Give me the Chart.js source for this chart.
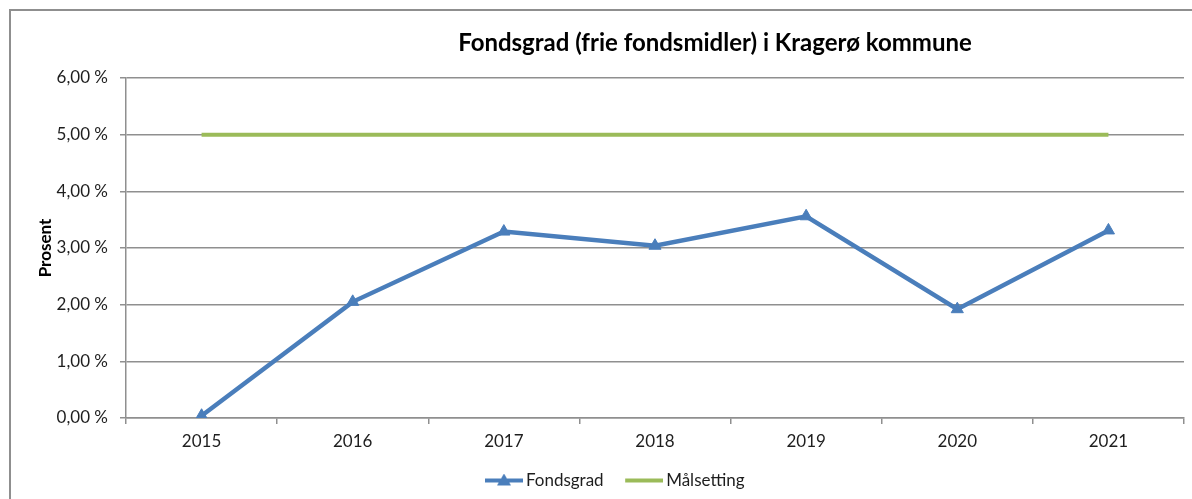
<!DOCTYPE html>
<html><head><meta charset="utf-8">
<script src="https://cdn.jsdelivr.net/npm/chart.js@4.4.1/dist/chart.umd.min.js"></script>
<style>
html,body{margin:0;padding:0;background:#fff;}
#wrap{position:relative;width:1192px;height:499px;overflow:hidden;}
#frame{position:absolute;left:9px;top:9px;width:1300px;height:600px;border-left:2px solid #8f8f8f;border-top:2px solid #8f8f8f;}
#title{position:absolute;left:715px;top:27px;transform:translateX(-50%);white-space:nowrap;font:bold 24px Lato, 'Open Sans', sans-serif;color:#000;}
canvas{position:absolute;left:0;top:0;}
</style></head>
<body>
<div id="wrap">
<div id="frame"></div>
<canvas id="c" width="1192" height="499"></canvas>
<div id="title">Fondsgrad (frie fondsmidler) i Kragerø kommune</div>
</div>
<script>
const categories = ['2015', '2016', '2017', '2018', '2019', '2020', '2021'];
const fondsgrad = [0.04, 2.05, 3.29, 3.04, 3.56, 1.92, 3.31];
const malsetting = [5, 5, 5, 5, 5, 5, 5];
const seriesNames = ['Fondsgrad', 'Målsetting'];
const yAxisTitle = 'Prosent';

const BLUE = '#4a7ebb';
const GREEN = '#9bbb59';
const GRID = '#8f8f8f';
const TEXT = '#1e1e1e';
const FONT = "Lato, 'Open Sans', sans-serif";

function legendIcon(color, withTriangle) {
  const c = document.createElement('canvas');
  c.width = 55; c.height = 14;
  const ctx = c.getContext('2d');
  ctx.strokeStyle = color; ctx.lineWidth = 4; ctx.lineCap = 'butt';
  ctx.beginPath(); ctx.moveTo(17, 7); ctx.lineTo(55, 7); ctx.stroke();
  if (withTriangle) {
    ctx.fillStyle = color;
    ctx.beginPath(); ctx.moveTo(36, 0); ctx.lineTo(43, 12); ctx.lineTo(29, 12); ctx.closePath(); ctx.fill();
  }
  return c;
}
const icons = [legendIcon(BLUE, true), legendIcon(GREEN, false)];

new Chart(document.getElementById('c'), {
  type: 'line',
  data: {
    labels: categories,
    datasets: [
      { label: seriesNames[0], data: fondsgrad, borderColor: BLUE, backgroundColor: BLUE,
        borderWidth: 4.5, pointStyle: 'triangle', pointRadius: 7, pointHoverRadius: 7,
        pointBackgroundColor: BLUE, pointBorderColor: BLUE, pointBorderWidth: 1, tension: 0 },
      { label: seriesNames[1], data: malsetting, borderColor: GREEN, backgroundColor: GREEN,
        borderWidth: 4, pointRadius: 0, pointHoverRadius: 0, tension: 0 }
    ]
  },
  options: {
    responsive: false,
    animation: false,
    devicePixelRatio: 1,
    layout: { padding: { left: 30, right: 4, top: 78, bottom: 0 } },
    plugins: {
      title: { display: false },
      tooltip: { enabled: false },
      legend: {
        position: 'bottom',
        labels: {
          usePointStyle: true,
          pointStyleWidth: 44,
          padding: 10,
          color: TEXT,
          font: { family: FONT, size: 17 },
          generateLabels(chart) {
            return chart.data.datasets.map((d, i) => ({
              text: d.label, pointStyle: icons[i], datasetIndex: i,
              fillStyle: d.borderColor, strokeStyle: d.borderColor, lineWidth: 0, hidden: false,
              fontColor: TEXT
            }));
          }
        }
      }
    },
    scales: {
      x: {
        offset: true,
        border: { color: GRID, width: 1.5 },
        grid: { offset: true, drawOnChartArea: false, drawTicks: true, tickLength: 6, color: GRID, lineWidth: 1.5 },
        ticks: { color: TEXT, font: { family: FONT, size: 17 }, padding: 7, maxRotation: 0 },
        afterFit(s) { s.height = 44; }
      },
      y: {
        min: 0, max: 6,
        border: { color: GRID, width: 1.5 },
        grid: { color: GRID, lineWidth: 1.5, drawTicks: true, tickLength: 6 },
        ticks: { stepSize: 1, color: TEXT, font: { family: FONT, size: 17 }, padding: 12,
          callback: v => v.toFixed(2).replace('.', ',') + ' %' },
        title: { display: true, text: yAxisTitle, color: '#000', font: { family: FONT, size: 17, weight: 'bold' }, padding: { top: 5, bottom: 0 } },
        afterFit(s) { s.width = 96; }
      }
    }
  }
});
</script>
</body></html>
